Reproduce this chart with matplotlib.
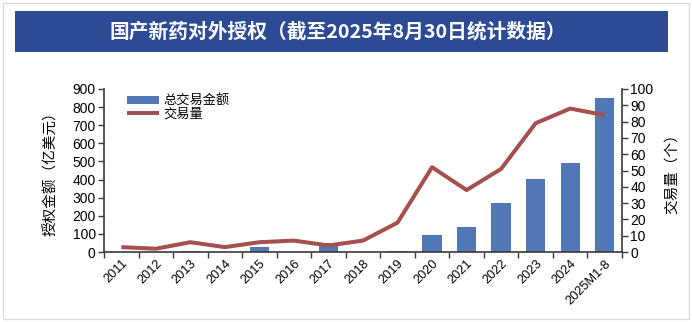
import matplotlib
matplotlib.use("Agg")
import matplotlib.pyplot as plt
from matplotlib.patches import Rectangle
import numpy as np

plt.rcParams['font.family'] = ['Liberation Sans', 'Noto Sans CJK SC', 'DejaVu Sans']

# Data
categories = ['2011', '2012', '2013', '2014', '2015', '2016', '2017', '2018',
              '2019', '2020', '2021', '2022', '2023', '2024', '2025M1-8']
total_amount = [0, 0, 5, 0, 27, 0, 47, 1, 4, 92, 136, 273, 402, 490, 850]   # 亿美元
deal_count = [3, 2, 6, 3, 6, 7, 4, 7, 18, 52, 38, 51, 79, 88, 84]            # 个

title = '国产新药对外授权（截至2025年8月30日统计数据）'
left_label = '授权金额（亿美元）'
right_label = '交易量（个）'
bar_label = '总交易金额'
line_label = '交易量'

bar_color = '#5177B6'
line_color = '#A5504E'
spine_color = '#3a3a3a'
cjk = ['Noto Sans CJK SC', 'DejaVu Sans']

W, H = 692, 322
fig = plt.figure(figsize=(W / 100, H / 100), dpi=100)
fig.patch.set_facecolor('white')

# outer frame
fig.add_artist(Rectangle((3 / W, 3 / H), (689 - 3) / W, (319 - 3) / H,
                         transform=fig.transFigure, fill=False,
                         edgecolor='#dcdcdc', linewidth=1.0))

# title band
band = Rectangle((15 / W, 1 - 52 / H), (668 - 15) / W, (52 - 11) / H,
                 transform=fig.transFigure, facecolor='#2C4B94',
                 edgecolor='none')
fig.add_artist(band)
fig.text(338 / W, 1 - 32 / H, title, color='white', fontsize=14.2,
         fontweight='bold', ha='center', va='center', family=cjk)

ax = fig.add_axes([104 / W, 1 - 252 / H, (622 - 104) / W, (252 - 89) / H])
x = np.arange(len(categories))
bars = ax.bar(x, total_amount, width=0.56, color=bar_color, label=bar_label,
              zorder=2)
ax.set_xlim(-0.5, len(categories) - 0.5)
ax.set_ylim(0, 900)
ax.set_yticks(np.arange(0, 901, 100))

ax2 = ax.twinx()
line, = ax2.plot(x, deal_count, color=line_color, linewidth=2.9,
                 label=line_label, solid_capstyle='butt', zorder=3)
ax2.set_ylim(0, 100)
ax2.set_yticks(np.arange(0, 101, 10))

# x ticks sit between categories, labels centred under each category
ax.set_xticks(np.arange(-0.5, len(categories), 1.0))
ax.set_xticklabels([])
ax.set_xticks(x, minor=True)
ax.set_xticklabels(categories, minor=True, rotation=45, ha='right',
                   rotation_mode='anchor', fontsize=9.2)
ax.tick_params(axis='x', which='minor', length=0, pad=4)
ax.tick_params(axis='x', which='major', length=4, width=1.0,
               color=spine_color, direction='out')

ax.tick_params(axis='y', labelsize=10, length=4, width=1.0,
               color=spine_color, direction='out', pad=2)
ax2.tick_params(axis='y', labelsize=10, length=4, width=1.0,
                color=spine_color, direction='out', pad=2)

for a in (ax, ax2):
    a.spines['top'].set_visible(False)
    for s in ('left', 'right', 'bottom'):
        a.spines[s].set_color(spine_color)
        a.spines[s].set_linewidth(1.2)
    a.set_facecolor('none')
ax2.spines['left'].set_visible(False)
ax2.spines['bottom'].set_visible(False)
ax.spines['right'].set_visible(False)

ax.set_ylabel(left_label, fontsize=10.5, labelpad=10, family=cjk)
ax2.set_ylabel(right_label, fontsize=10.5, labelpad=8, rotation=90,
               family=cjk)

leg = ax.legend([bars, line], [bar_label, line_label],
                loc='upper left', bbox_to_anchor=(0.035, 1.0),
                frameon=False, handlelength=2.4,
                handleheight=0.6, labelspacing=0.0, borderaxespad=0,
                handletextpad=0.3, prop={'family': cjk, 'size': 9.5})

fig.savefig('out.png', dpi=100, facecolor='white')
